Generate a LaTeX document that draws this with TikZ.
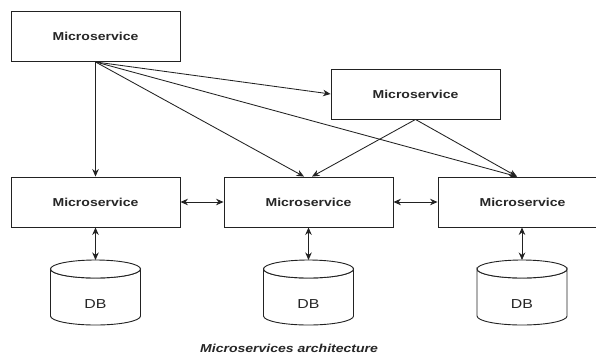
\documentclass[tikz,border=0pt]{standalone}
\usepackage{fontspec}
\newfontfamily\msfont[FakeStretch=1.22]{Liberation Sans}
\usetikzlibrary{arrows.meta}
\definecolor{linec}{HTML}{222222}
\definecolor{textc}{HTML}{262626}
\tikzset{
  msbox/.style={draw=linec, line width=0.9pt, fill=white, minimum width=169pt, minimum height=50pt, inner sep=0pt,
    font=\msfont\fontsize{11.5}{13}\selectfont\bfseries, text=textc},
  dblabel/.style={inner sep=0pt, font=\msfont\fontsize{13}{15}\selectfont, text=textc},
  conn/.style={draw=linec, line width=0.85pt, -{Stealth[length=7.5pt,width=6.5pt]}},
  biconn/.style={draw=linec, line width=0.85pt, {Stealth[length=7.5pt,width=6.5pt]}-{Stealth[length=7.5pt,width=6.5pt]}},
  cylline/.style={draw=linec, line width=0.9pt, fill=white},
}
\newcommand{\dbcyl}[3]{% name, cx, top y
  \path[cylline] (#2-45,#3+9) -- (#2-45,#3+56) arc[start angle=180,end angle=360,x radius=45pt,y radius=9pt] -- (#2+45,#3+9) arc[start angle=0,end angle=-180,x radius=45pt,y radius=9pt] -- cycle;
  \draw[cylline] (#2,#3+9) ellipse[x radius=45pt,y radius=9pt];
  \coordinate (#1top) at (#2,#3);
  \node[dblabel] (#1) at (#2,#3+44) {DB};
}
\begin{document}
\begin{tikzpicture}[x=1pt,y=-1pt]
\useasboundingbox (0,0) rectangle (596,357);
\clip (0,0) rectangle (596,357);
\fill[white] (0,0) rectangle (596,357);

\node[msbox] (A) at (95.5,36.5) {Microservice};
\node[msbox] (B) at (415.5,94) {Microservice};
\node[msbox] (C) at (95.5,202) {Microservice};
\node[msbox] (D) at (308.5,202) {Microservice};
\node[msbox] (E) at (522.5,202) {Microservice};

\dbcyl{db1}{95.5}{260}
\dbcyl{db2}{308.5}{260}
\dbcyl{db3}{522}{260}

\draw[conn] (A.south) -- (C.north);
\draw[conn] (A.south) -- (B.west);
\draw[conn] (A.south) -- ([xshift=-4.5pt]D.north);
\draw[conn] (A.south) -- ([xshift=-5.5pt]E.north);
\draw[conn] (B.south) -- ([xshift=3.5pt]D.north);
\draw[conn] (B.south) -- ([xshift=-5.5pt]E.north);

\draw[biconn] (C.east) -- (D.west);
\draw[biconn] (D.east) -- (E.west);
\draw[biconn] (C.south) -- (db1top);
\draw[biconn] (D.south) -- (db2top);
\draw[biconn] ([xshift=-0.5pt]E.south) -- (db3top);

\node[anchor=west, inner sep=0pt, text=textc, font=\msfont\fontsize{11.5}{13}\selectfont\bfseries\itshape] (cap) at (200,348.5) {Microservices architecture};
\end{tikzpicture}
\end{document}
